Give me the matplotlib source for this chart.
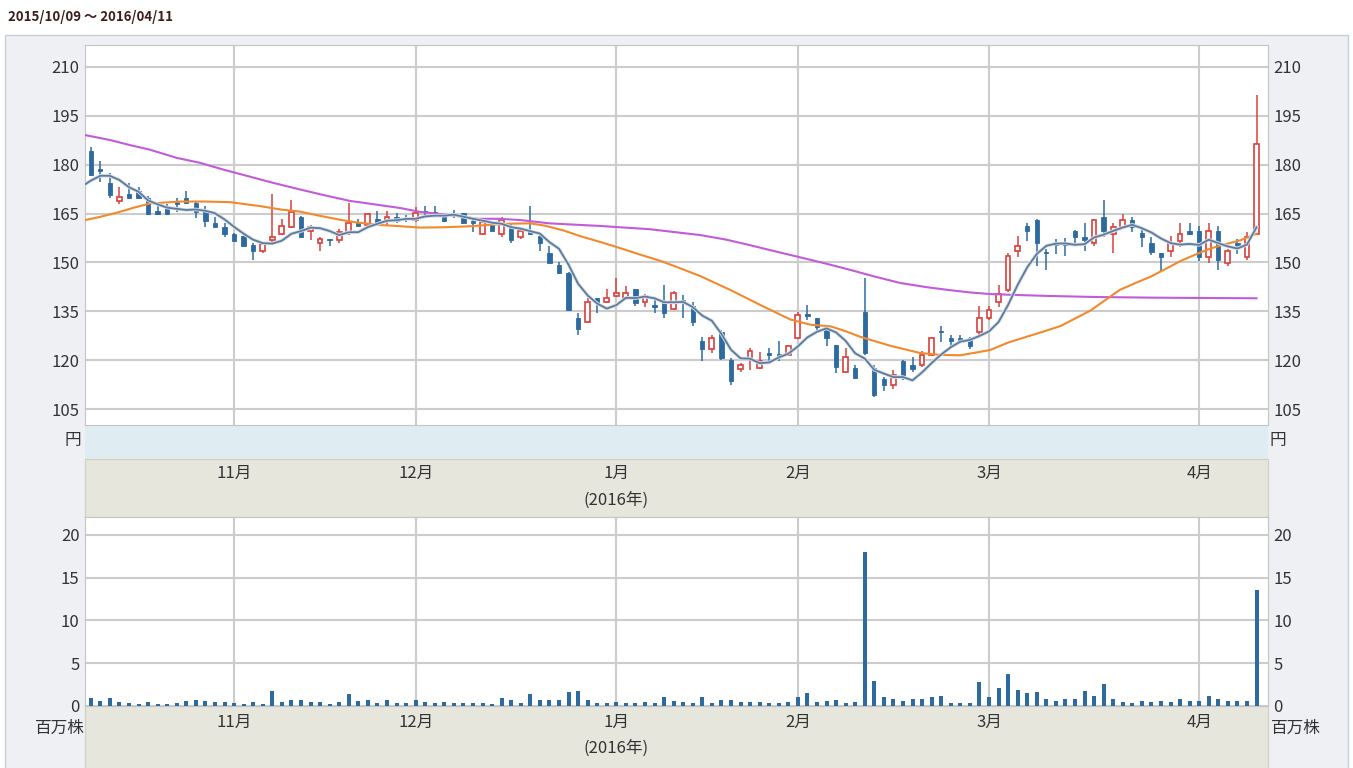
import numpy as np
import pandas as pd
import matplotlib
matplotlib.use('Agg')
import matplotlib.pyplot as plt
import matplotlib.patheffects as pe
from matplotlib.patches import Rectangle

W, H = 1353, 768
FONT = ['Liberation Sans Narrow', 'Noto Sans CJK JP', 'DejaVu Sans']
plt.rcParams['font.family'] = FONT

# ---------------- data ----------------
holidays = ['2015-10-12', '2015-11-03', '2015-11-23', '2015-12-23', '2015-12-31',
            '2016-01-01', '2016-01-11', '2016-02-11', '2016-03-21']
dates = [d for d in pd.bdate_range('2015-10-09', '2016-04-11')
         if d.strftime('%Y-%m-%d') not in holidays]

open_ = [184.3, 178.6, 174.3, 168.8, 171.0, 171.9, 169.9, 165.9, 167.3, 168.6,
         169.7, 168.1, 166.1, 162.2, 161.0, 158.7, 158.1, 155.3, 153.6, 156.9,
         158.7, 161.0, 164.1, 159.8, 156.1, 157.0, 156.9, 158.9, 162.0, 161.5,
         163.3, 162.8, 164.1, 163.5, 163.0, 165.8, 165.6, 164.3, 165.0, 165.1,
         162.6, 158.7, 162.3, 158.6, 161.2, 157.7, 159.8, 158.1, 153.0, 149.2,
         146.8, 132.8, 131.8, 139.0, 137.9, 139.7, 139.0, 141.7, 137.9, 136.8,
         137.9, 135.6, 138.4, 136.6, 126.0, 123.3, 128.7, 120.0, 117.2, 120.6,
         117.5, 122.1, 121.8, 121.6, 126.7, 134.1, 132.8, 129.8, 124.6, 116.4,
         117.7, 134.9, 117.5, 114.1, 112.4, 119.8, 118.5, 118.5, 121.6, 128.9,
         126.9, 126.7, 126.7, 128.7, 132.8, 137.9, 141.5, 153.6, 161.2, 163.0,
         153.2, 155.8, 156.1, 159.8, 157.9, 155.9, 164.1, 158.7, 161.0, 163.0,
         158.9, 156.1, 152.8, 153.6, 156.7, 159.8, 159.8, 151.8, 159.8, 149.7,
         155.9, 151.8, 158.7]
high = [185.5, 181.2, 177.4, 173.3, 174.3, 173.3, 170.3, 167.9, 168.0, 169.7,
        171.9, 168.6, 167.3, 163.9, 162.0, 159.0, 158.7, 156.0, 156.0, 171.0,
        163.3, 169.2, 164.3, 161.5, 157.9, 157.1, 160.2, 168.1, 163.3, 165.2,
        165.9, 165.8, 165.1, 164.5, 167.1, 167.3, 167.3, 164.5, 166.0, 165.3,
        163.5, 163.0, 162.8, 164.1, 162.0, 160.5, 167.3, 158.9, 155.0, 150.2,
        147.0, 134.6, 139.0, 139.2, 141.7, 145.1, 142.9, 141.8, 140.3, 139.0,
        143.1, 141.3, 140.0, 137.9, 127.2, 127.7, 129.2, 120.6, 119.2, 123.6,
        122.6, 123.6, 126.0, 124.6, 134.9, 136.9, 133.0, 130.3, 124.8, 123.6,
        118.5, 145.1, 118.5, 114.9, 117.0, 120.0, 120.9, 122.9, 127.2, 130.5,
        127.7, 127.7, 127.2, 136.6, 136.6, 143.1, 153.0, 158.1, 162.2, 163.3,
        154.0, 157.1, 157.4, 160.0, 162.2, 163.3, 169.2, 162.2, 164.9, 164.1,
        160.2, 157.9, 153.0, 158.1, 162.2, 162.2, 161.2, 162.2, 161.2, 154.0,
        157.1, 159.4, 201.4]
low = [176.5, 174.8, 169.7, 167.9, 169.6, 169.5, 164.5, 164.6, 164.5, 165.6,
       167.8, 163.7, 161.0, 160.9, 157.9, 156.5, 154.8, 150.7, 152.8, 155.9,
       158.4, 160.5, 157.5, 156.9, 153.5, 155.0, 156.1, 158.4, 161.0, 161.3,
       161.5, 161.5, 162.0, 162.3, 162.5, 164.1, 164.1, 162.5, 163.5, 161.8,
       159.4, 158.5, 159.5, 157.7, 155.9, 157.1, 158.5, 153.5, 149.7, 146.5,
       135.0, 127.7, 131.5, 134.6, 137.6, 139.5, 138.5, 136.7, 136.4, 134.6,
       132.8, 135.3, 132.8, 130.5, 119.8, 122.3, 120.0, 112.4, 116.4, 117.0,
       117.2, 119.8, 119.8, 121.3, 126.4, 132.3, 128.7, 124.3, 116.1, 116.1,
       114.3, 121.6, 108.6, 110.6, 111.3, 113.9, 116.4, 118.0, 121.3, 125.7,
       123.6, 125.2, 123.3, 126.7, 132.3, 136.4, 141.0, 151.8, 156.7, 148.9,
       147.7, 152.6, 152.0, 155.6, 153.6, 155.0, 157.9, 152.8, 160.5, 159.4,
       154.8, 152.3, 147.5, 151.8, 154.8, 158.5, 150.5, 149.9, 147.7, 148.9,
       152.6, 150.7, 158.5]
close = [176.8, 178.2, 170.7, 170.0, 169.8, 169.9, 164.8, 164.8, 164.8, 168.0,
         168.1, 165.6, 162.8, 161.0, 158.6, 156.7, 155.0, 153.6, 155.7, 157.9,
         161.2, 165.6, 157.7, 161.0, 157.1, 156.8, 159.4, 162.0, 161.2, 164.9,
         161.8, 164.1, 162.8, 163.2, 165.1, 165.4, 165.3, 162.8, 164.7, 162.0,
         162.2, 162.5, 159.6, 163.0, 156.9, 159.8, 158.7, 155.9, 149.9, 146.7,
         135.4, 129.5, 137.9, 137.4, 139.0, 140.7, 140.7, 137.5, 139.7, 136.4,
         134.6, 140.7, 138.0, 131.8, 123.3, 126.7, 120.6, 113.7, 118.5, 122.8,
         119.8, 121.7, 121.4, 124.3, 133.9, 133.7, 130.3, 126.7, 118.0, 120.9,
         114.6, 122.3, 109.3, 112.4, 115.4, 114.7, 117.2, 121.6, 126.7, 128.5,
         125.9, 125.7, 124.3, 132.8, 135.4, 140.3, 152.0, 155.0, 159.8, 155.9,
         152.8, 155.4, 155.3, 157.7, 156.9, 163.0, 159.8, 161.0, 163.0, 161.0,
         157.7, 153.3, 151.8, 155.9, 158.7, 158.7, 151.8, 159.8, 150.7, 153.6,
         155.5, 157.9, 186.3]
volume = [0.90, 0.58, 0.90, 0.43, 0.31, 0.20, 0.51, 0.23, 0.23, 0.39,
          0.58, 0.70, 0.58, 0.43, 0.51, 0.39, 0.23, 0.51, 0.23, 1.79,
          0.51, 0.70, 0.70, 0.43, 0.51, 0.20, 0.51, 1.40, 0.58, 0.70,
          0.39, 0.70, 0.39, 0.39, 0.70, 0.51, 0.39, 0.51, 0.39, 0.39,
          0.31, 0.31, 0.23, 0.90, 0.70, 0.39, 1.40, 0.70, 0.70, 0.70,
          1.60, 1.75, 0.70, 0.39, 0.39, 0.51, 0.39, 0.39, 0.51, 0.39,
          1.01, 0.58, 0.51, 0.31, 1.01, 0.39, 0.70, 0.70, 0.51, 0.51,
          0.51, 0.39, 0.39, 0.51, 1.01, 1.56, 0.51, 0.62, 0.70, 0.39,
          0.51, 17.97, 2.96, 1.01, 0.82, 0.62, 0.82, 0.82, 1.01, 1.21,
          0.31, 0.31, 0.31, 2.77, 1.01, 2.07, 3.70, 1.87, 1.56, 1.68,
          0.82, 0.62, 0.82, 0.82, 1.72, 1.21, 2.61, 0.82, 0.47, 0.31,
          0.62, 0.47, 0.62, 0.47, 0.82, 0.62, 0.62, 1.21, 0.82, 0.62,
          0.62, 0.62, 13.57]

# 5-day MA for sessions -1..3 (earlier closes are not shown)
ma5_head_idx = [-1, 0, 1, 2, 3]
ma5_head = [173.2, 175.1, 176.6, 176.6, 175.3]

# 25-day MA (session position, value)
ma25_idx = [-0.6, 1, 3, 4.5, 6.2, 9.4, 12, 14.6, 17.7, 20, 21.9, 24, 26.1, 28,
            30.3, 32.5, 34.5, 37, 39.7, 42, 43.9, 46, 47.5, 49.5, 51.2, 53.3,
            55.4, 57.5, 59.6, 61.7, 63.8, 66.9, 70.1, 73.2, 75.3, 77.4, 79,
            80.5, 83.7, 86.8, 89, 91.0, 94.1, 96, 97.3, 99.5, 101.5, 104.6,
            107.7, 109.5, 110.9, 113, 114.0, 116, 117.2, 118.5, 120.3, 122]
ma25_val = [163.0, 164.0, 165.5, 166.8, 168.1, 168.7, 168.7, 168.5, 167.3, 166.2,
            165.6, 164.3, 163.1, 162.2, 161.5, 161.1, 160.7, 160.8, 161.1, 161.6,
            161.9, 162.0, 161.3, 159.8, 158.1, 156.3, 154.4, 152.4, 150.5, 148.2,
            145.8, 141.6, 136.9, 132.5, 130.9, 130.4, 128.9, 127.2, 124.4, 122.2,
            121.6, 121.5, 123.1, 125.4, 126.6, 128.6, 130.5, 135.2, 141.6, 143.9,
            145.6, 148.8, 150.4, 152.9, 154.3, 155.4, 156.8, 158.8]

# 75-day MA (session position, value)
ma75_idx = [-0.6, 2, 4, 6.2, 9, 11.4, 14, 16.7, 19, 21.9, 24.5, 27.1, 30,
            32.4, 34.5, 38, 40.5, 42.8, 45, 48, 53.3, 58.5, 63.8, 66.5, 69,
            71.5, 74.2, 77, 79.5, 82, 84.7, 87.5, 89.9, 92, 94.1, 97, 100.4,
            105, 110.9, 116, 122]
ma75_val = [189.1, 187.6, 186.1, 184.6, 182.1, 180.6, 178.4, 176.3, 174.5, 172.4,
            170.6, 168.9, 167.7, 166.7, 165.5, 164.4, 163.4, 163.4, 163.0, 162.0,
            161.2, 160.2, 158.4, 157.0, 155.3, 153.5, 151.6, 149.6, 147.7, 145.7,
            143.7, 142.4, 141.5, 140.8, 140.3, 140.0, 139.7, 139.4, 139.2, 139.1,
            139.0]

price_ticks = [105, 120, 135, 150, 165, 180, 195, 210]
vol_ticks = [0, 5, 10, 15, 20]
month_labels = ['11月', '12月', '1月', '2月', '3月', '4月']
year_label = '(2016年)'
title = '2015/10/09 ～ 2016/04/11'

# ---------------- style ----------------
BLUE = '#2c6aa0'
RED = '#d8403c'
GRID = '#cccccc'
TXT = '#333333'
BEIGE = '#e6e6dc'
LBLUE = '#dfedf3'
PANEL = '#eef0f4'

n = len(close)
x = np.arange(n)
o = np.array(open_); c = np.array(close); h = np.array(high); l = np.array(low)
up = c >= o
month_pos = [i for i in range(1, n) if dates[i].month != dates[i - 1].month]

fig = plt.figure(figsize=(W / 100, H / 100), dpi=100)
fig.patch.set_facecolor('white')

def rect(x0, y0, x1, y1):
    return [x0 / W, 1 - y1 / H, (x1 - x0) / W, (y1 - y0) / H]

bg = fig.add_axes([0, 0, 1, 1], zorder=0)
bg.set_xlim(0, W); bg.set_ylim(H, 0); bg.axis('off')
bg.add_patch(Rectangle((5, 35), 1343, 740, facecolor=PANEL, edgecolor='#c9cdd4', lw=1))
bg.add_patch(Rectangle((85, 425), 1183, 34, facecolor=LBLUE, edgecolor='none'))
bg.add_patch(Rectangle((85, 459), 1183, 58, facecolor=BEIGE, edgecolor='#cfcfc6', lw=0.8))
bg.add_patch(Rectangle((85, 706), 1183, 70, facecolor=BEIGE, edgecolor='#cfcfc6', lw=0.8))
bg.text(8, 17, title, ha='left', va='center', fontsize=9.5, fontweight='bold', color='#3e1c1c')
bg.text(73, 441, '円', ha='center', va='center', fontsize=12, color=TXT)
bg.text(1278, 441, '円', ha='center', va='center', fontsize=12, color=TXT)
bg.text(60, 728, '百万株', ha='center', va='center', fontsize=12, color=TXT)
bg.text(1296, 728, '百万株', ha='center', va='center', fontsize=12, color=TXT)

ax = fig.add_axes(rect(85, 45, 1268, 425), zorder=2)
av = fig.add_axes(rect(85, 517, 1268, 706), zorder=2)
XL = (-0.6, 123.2)

# price panel
ax.set_xlim(*XL)
ax.set_ylim(100.1, 216.75)
ax.set_yticks(price_ticks)
ax.set_xticks(month_pos)
ax.grid(True, color=GRID, lw=1.5)
ax.set_axisbelow(True)
ax.tick_params(length=0, labelleft=True, labelright=True, labelbottom=False,
               labelsize=12, labelcolor=TXT, pad=4)
for s in ax.spines.values():
    s.set_color('#c4c4c4')

wick_col = [RED if u else BLUE for u in up]
ax.vlines(x, l, h, colors=wick_col, lw=1.1, zorder=2)
bot = np.minimum(o, c)
hgt = np.maximum(np.abs(c - o), 0.3)
ax.bar(x[~up], hgt[~up], bottom=bot[~up], width=0.45, color=BLUE,
       edgecolor=BLUE, lw=0.6, zorder=3)
ax.bar(x[up], hgt[up], bottom=bot[up], width=0.5, facecolor='white',
       edgecolor=RED, lw=1.2, zorder=3)

ma5_x = ma5_head_idx + list(range(4, n))
ma5 = ma5_head + [c[i - 4:i + 1].mean() for i in range(4, n)]
ax.plot(ma75_idx, ma75_val, color='#c25bd9', lw=1.5, zorder=4, solid_joinstyle='round')
ax.plot(ma25_idx, ma25_val, color='#f2892c', lw=1.5, zorder=4, solid_joinstyle='round')
ax.plot(ma5_x, ma5, color='#5d7b9c', lw=1.3, zorder=5, solid_joinstyle='round',
        path_effects=[pe.Stroke(linewidth=2.6, foreground='#d6dfe9'), pe.Normal()])

# volume panel
av.set_xlim(*XL)
av.set_ylim(0, 22.1)
av.set_yticks(vol_ticks)
av.set_xticks(month_pos)
av.grid(True, color=GRID, lw=1.5)
av.set_axisbelow(True)
av.tick_params(length=0, labelleft=True, labelright=True, labelbottom=False,
               labelsize=12, labelcolor=TXT, pad=4)
for s in av.spines.values():
    s.set_color('#c4c4c4')
av.bar(x, volume, width=0.42, color=BLUE, zorder=3)

# month labels
def px(i):
    return 85 + (i - XL[0]) / (XL[1] - XL[0]) * 1183

for pos, lab in zip(month_pos, month_labels):
    bg.text(px(pos), 473, lab, ha='center', va='center', fontsize=12, color=TXT)
    bg.text(px(pos), 722, lab, ha='center', va='center', fontsize=12, color=TXT)
jan = month_pos[2]
bg.text(px(jan), 500, year_label, ha='center', va='center', fontsize=12, color=TXT)
bg.text(px(jan), 748, year_label, ha='center', va='center', fontsize=12, color=TXT)

fig.savefig('out.png', dpi=100)
